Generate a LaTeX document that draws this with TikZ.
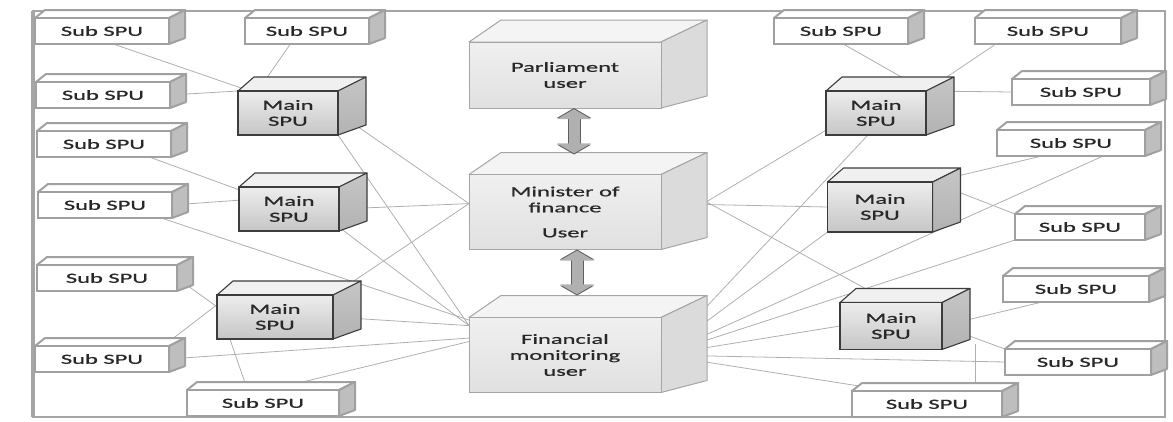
\documentclass[tikz,border=0pt]{standalone}
\usepackage{fontspec}
\usepackage{tikz}
\usetikzlibrary{arrows.meta,backgrounds}
\newfontfamily\spufont[FakeStretch=1.75,FakeBold=0.8]{Carlito}
\definecolor{framegray}{RGB}{165,165,165}
\definecolor{boxedge}{RGB}{160,160,160}
\definecolor{subgray}{RGB}{190,190,190}
\definecolor{mainedge}{RGB}{60,60,60}
\definecolor{useredge}{RGB}{165,165,165}
\definecolor{linkgray}{RGB}{175,175,175}
\definecolor{arrowedge}{RGB}{95,95,95}
\definecolor{txt}{RGB}{40,40,40}

% top and right faces of a box: node, dx left, dx right, dy top, dy bottom, top style, side style
\newcommand\cubefaces[7]{%
  \path[#6] (#1.north west) -- ([shift={(#2pt,#4pt)}]#1.north west)
    -- ([shift={(#3pt,#4pt)}]#1.north east) -- (#1.north east) -- cycle;
  \path[#7] (#1.north east) -- ([shift={(#3pt,#4pt)}]#1.north east)
    -- ([shift={(#3pt,#5pt)}]#1.south east) -- (#1.south east) -- cycle;
}

\begin{document}
\begin{tikzpicture}[x=1pt, y=-1pt,
    boxfont/.style={font=\spufont\fontsize{14}{16}\selectfont, text=txt, align=center},
    subtop/.style={draw=boxedge, line width=2pt, fill=white, line join=round},
    subside/.style={draw=boxedge, line width=2pt, fill=subgray, line join=round},
    subspu/.style={boxfont, draw=boxedge, line width=2pt, fill=white, inner sep=0pt, outer sep=0pt,
      minimum width=134pt, minimum height=26pt,
      append after command={\pgfextra{\cubefaces{\tikzlastnode}{10}{16}{8}{6}{subtop}{subside}}}},
    maintop/.style={draw=mainedge, line width=1.1pt, fill=gray!12, line join=round},
    mainside/.style={draw=mainedge, line width=1.1pt, top color=gray!45, bottom color=gray!60, line join=round},
    mainspu/.style={boxfont, draw=mainedge, line width=1.1pt, top color=gray!14, bottom color=gray!45,
      inner sep=0pt, outer sep=0pt, minimum width=100pt, minimum height=44pt,
      append after command={\pgfextra{\cubefaces{\tikzlastnode}{16}{28}{14}{10}{maintop}{mainside}}}},
    usertop/.style={draw=useredge, line width=1pt, fill=gray!9, line join=round},
    userside/.style={draw=useredge, line width=1pt, fill=gray!28, line join=round},
    userbox/.style={boxfont, draw=useredge, line width=1pt, top color=gray!12, bottom color=gray!24,
      inner sep=0pt, outer sep=0pt, minimum width=192pt, minimum height=72pt,
      append after command={\pgfextra{\cubefaces{\tikzlastnode}{32}{46}{22}{12}{usertop}{userside}}}},
    link/.style={draw=linkgray, line width=0.8pt},
    dbl/.style={{Triangle[width=34pt,length=10pt]}-{Triangle[width=34pt,length=10pt]}, line width=#1},
    dbl/.default=11pt
]
\useasboundingbox (0,0) rectangle (1173,421);

% centre column
\node[userbox, minimum height=66pt] (par) at (565,75) {Parliament\\user};
\node[userbox, minimum height=75pt] (mof) at (565,212) {Minister of\\finance\\[9pt]User};
\node[userbox, minimum height=75pt] (fmu) at (565,355) {Financial\\monitoring\\user};

% main SPUs
\node[mainspu] (m1) at (288,113) {Main\\SPU};
\node[mainspu] (m2) at (289,209) {Main\\SPU};
\node[mainspu, minimum width=116pt] (m3) at (275,317) {Main\\SPU};
\node[mainspu] (m4) at (876,113) {Main\\SPU};
\node[mainspu, minimum width=105pt, minimum height=50pt] (m5) at (880,207) {Main\\SPU};
\node[mainspu, minimum width=102pt, minimum height=47pt] (m6) at (891,326) {Main\\SPU};

% sub SPUs, left
\node[subspu] (s1) at (102,31) {Sub SPU};
\node[subspu, minimum width=124pt] (s2) at (307,31) {Sub SPU};
\node[subspu] (s3) at (103,95) {Sub SPU};
\node[subspu] (s4) at (104,144) {Sub SPU};
\node[subspu] (s5) at (105,205) {Sub SPU};
\node[subspu, minimum width=140pt] (s6) at (107,278) {Sub SPU};
\node[subspu] (s7) at (102,359) {Sub SPU};
\node[subspu, minimum width=152pt] (s8) at (263,403) {Sub SPU};

% sub SPUs, right
\node[subspu] (r1) at (841,31) {Sub SPU};
\node[subspu, minimum width=146pt] (r2) at (1048,31) {Sub SPU};
\node[subspu, minimum width=138pt] (r3) at (1081,92) {Sub SPU};
\node[subspu, minimum width=148pt] (r4) at (1071,143) {Sub SPU};
\node[subspu, minimum width=130pt] (r5) at (1080,227) {Sub SPU};
\node[subspu, minimum width=146pt] (r6) at (1076,289) {Sub SPU};
\node[subspu, minimum width=146pt] (r7) at (1078,362) {Sub SPU};
\node[subspu, minimum width=150pt] (r8) at (927,404) {Sub SPU};

\coordinate (m6r) at ([shift={(33pt,6pt)}]m6.south east);

% double arrows, dark rim under a lighter body
\draw[dbl=13pt, arrowedge] ([xshift=9pt]par.south) -- ([shift={(9pt,20pt)}]mof.north);
\draw[dbl, gray!62, shorten <=1.2pt, shorten >=1.2pt] ([xshift=9pt]par.south) -- ([shift={(9pt,20pt)}]mof.north);
\draw[dbl=13pt, arrowedge] ([xshift=12pt]mof.south) -- ([shift={(12pt,22pt)}]fmu.north);
\draw[dbl, gray!62, shorten <=1.2pt, shorten >=1.2pt] ([xshift=12pt]mof.south) -- ([shift={(12pt,22pt)}]fmu.north);

\begin{scope}[on background layer]
  \draw[framegray, line width=2pt] (33,11) rectangle (1165,417);
  \draw[framegray, line width=4.5pt] (33,11) -- (33,417);
  % left links
  \draw[link] (s1.-49) -- (m1.150);
  \draw[link] (s2.-142) -- (m1.144);
  \draw[link] (s3.east) -- (m1.north west);
  \draw[link] (s4.-16) -- (m2.159);
  \draw[link] (s5.east) -- (m2.170);
  \draw[link] (s5.-13) -- (fmu.160);
  \draw[link] (s6.east) -- (m3.170);
  \draw[link] (s7.12) -- (m3.168);
  \draw[link] (s7.east) -- (fmu.170);
  \draw[link] (m3.-154) -- (s8.140);
  \draw[link] (s8.63) -- (fmu.172);
  \draw[link] (m1.east) -- (mof.175);
  \draw[link] (m1.south east) -- (fmu.163);
  \draw[link] (m2.east) -- (mof.175);
  \draw[link] (m2.-20) -- (fmu.163);
  \draw[link] (m3.north east) -- (mof.175);
  \draw[link] (m3.east) -- (fmu.163);
  % right links
  \draw[link] (r1.-80) -- (m4.north east);
  \draw[link] (r2.-166) -- (m4.north east);
  \draw[link] (m4.north east) -- (r3.west);
  \draw[link] (m4.-161) -- (mof.-10);
  \draw[link] (m4.-110) -- (fmu.east);
  \draw[link] (r4.-156) -- (m5.north east);
  \draw[link] (r4.-22) -- (fmu.east);
  \draw[link] (m5.north east) -- (r5.north west);
  \draw[link] (mof.5) -- (m5.west);
  \draw[link] (m5.south west) -- (fmu.east);
  \draw[link] (r5.south west) -- (fmu.east);
  \draw[link] (mof.20) -- (m6.north);
  \draw[link] (m6.east) -- (r6.-159);
  \draw[link] (m6.east) -- (r7.north west);
  \draw[link] (m6.west) -- (fmu.east);
  \draw[link] (r7.west) -- (fmu.east);
  \draw[link] (r8.160) -- (fmu.east);
  \draw[link] (m6r) -- (m6r |- r8.north);
\end{scope}
\end{tikzpicture}
\end{document}
